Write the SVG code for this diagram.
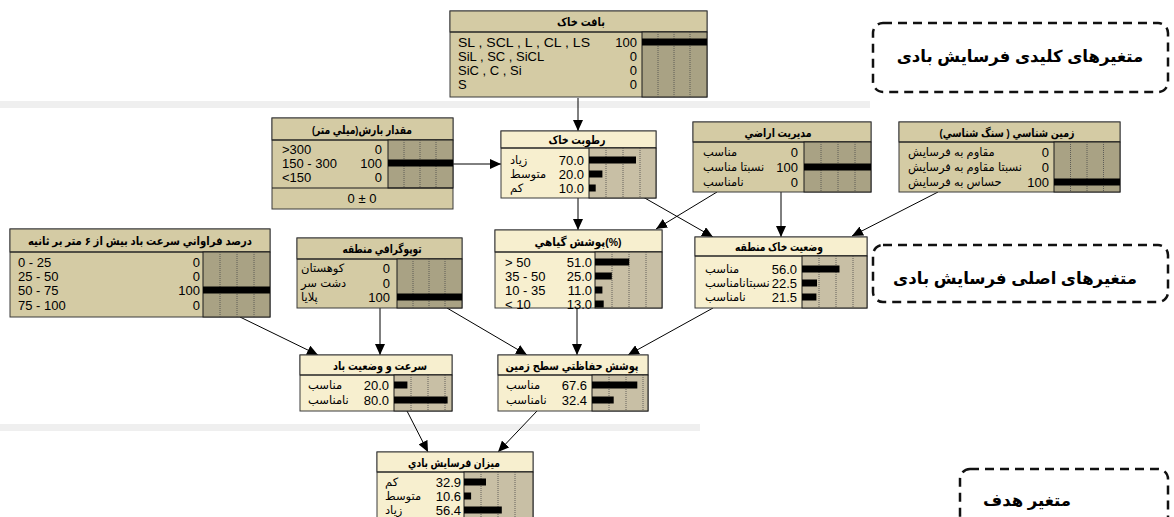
<svg xmlns="http://www.w3.org/2000/svg" width="1174" height="517" viewBox="0 0 1174 517">
<style>
text{font-family:"Liberation Sans","DejaVu Sans",Arial,sans-serif;fill:#000}
.ttl{font-size:11.5px;font-weight:bold;text-anchor:middle}
.lab{font-size:11.5px}
.lat{font-size:13px}
.val{font-size:13px;text-anchor:end}
.frame{stroke:#3a3a3a;stroke-width:1}
.tev{fill:#d4cba4}
.tc{fill:#f7efcf}
.bev{fill:#d4cba4}
.bc{fill:#f7efcf}
.cev{fill:#a9a284;stroke:#1a1a1a;stroke-width:1}
.cc{fill:#c8bfa5;stroke:#1a1a1a;stroke-width:1}
.sep{stroke:#1a1a1a;stroke-width:1.2}
.grid{stroke:#4a4a4a;stroke-width:0.8;stroke-dasharray:1 1}
.bar{fill:#000}
.conn line{stroke:#000;stroke-width:1;marker-end:url(#ah)}
.band{fill:#efefef}
.dbox{fill:none;stroke:#111;stroke-width:2.5;stroke-dasharray:9 6}
.big{font-size:16.5px;font-weight:bold;text-anchor:middle}
</style>
<defs>
<marker id="ah" markerUnits="userSpaceOnUse" markerWidth="12" markerHeight="10" refX="11" refY="5" orient="auto">
<path d="M0,0 L11,5 L0,10 z" fill="#000"/>
</marker>
</defs>
<rect x="0" y="0" width="1174" height="517" fill="#fff"/>
<rect class="band" x="0" y="101" width="870" height="7"/>
<rect class="band" x="0" y="424" width="700" height="7"/>

<g id="connectors" class="conn">
<line x1="578" y1="98" x2="578" y2="131"/>
<line x1="453" y1="164" x2="501" y2="164"/>
<line x1="578" y1="198" x2="578" y2="230"/>
<line x1="643" y1="197" x2="713" y2="237"/>
<line x1="717" y1="192" x2="656" y2="229"/>
<line x1="781" y1="192" x2="781" y2="237"/>
<line x1="938" y1="192" x2="852" y2="236"/>
<line x1="240" y1="317" x2="318" y2="355"/>
<line x1="380" y1="308" x2="380" y2="355"/>
<line x1="447" y1="308" x2="527" y2="355"/>
<line x1="577" y1="308" x2="577" y2="355"/>
<line x1="713" y1="308" x2="628" y2="355"/>
<line x1="407" y1="411" x2="428" y2="452"/>
<line x1="537" y1="411" x2="498" y2="452"/>
</g>

<g id="n-texture" transform="translate(450,11)">
<rect class="bev frame" width="257" height="86"/>
<rect class="tev frame" width="257" height="21"/>
<line class="sep" x1="0" y1="21" x2="257" y2="21"/>
<rect class="cev" x="192" y="21" width="65" height="65"/>
<line class="grid" x1="208" y1="21" x2="208" y2="86"/><line class="grid" x1="224" y1="21" x2="224" y2="86"/><line class="grid" x1="240" y1="21" x2="240" y2="86"/>
<rect class="bar" x="192" y="27.5" width="65" height="7"/>
<text class="ttl" x="131" y="15" textLength="48" lengthAdjust="spacingAndGlyphs">بافت خاک</text>
<text class="lat" x="8" y="36" textLength="132" lengthAdjust="spacingAndGlyphs">SL , SCL , L , CL , LS</text><text class="val" x="187" y="36">100</text>
<text class="lat" x="8" y="50">SiL , SC , SiCL</text><text class="val" x="187" y="50">0</text>
<text class="lat" x="8" y="64">SiC , C , Si</text><text class="val" x="187" y="64">0</text>
<text class="lat" x="8" y="78">S</text><text class="val" x="187" y="78">0</text>
</g>

<g id="n-rain" transform="translate(272,118)">
<rect class="bev frame" width="181" height="91"/>
<rect class="tev frame" width="181" height="22"/>
<line class="sep" x1="0" y1="22" x2="181" y2="22"/>
<rect class="cev" x="116" y="22" width="65" height="48"/>
<line class="grid" x1="132" y1="22" x2="132" y2="70"/><line class="grid" x1="148" y1="22" x2="148" y2="70"/><line class="grid" x1="164" y1="22" x2="164" y2="70"/>
<rect class="bar" x="116" y="41.5" width="65" height="7"/>
<line class="sep" x1="0" y1="70" x2="181" y2="70"/>
<text class="ttl" x="90" y="15.5" textLength="100" lengthAdjust="spacingAndGlyphs">(مقدار بارش(میلي متر</text>
<text class="lat" x="10" y="36">&gt;300</text><text class="val" x="110" y="36">0</text>
<text class="lat" x="10" y="50">150 - 300</text><text class="val" x="110" y="50">100</text>
<text class="lat" x="10" y="64">&lt;150</text><text class="val" x="110" y="64">0</text>
<text class="lat" x="90" y="85" text-anchor="middle">0 ± 0</text>
</g>

<g id="n-moisture" transform="translate(501,131)">
<rect class="bc frame" width="155" height="67"/>
<rect class="tc frame" width="155" height="17"/>
<line class="sep" x1="0" y1="17" x2="155" y2="17"/>
<rect class="cc" x="88" y="17" width="67" height="50"/>
<line class="grid" x1="105" y1="17" x2="105" y2="67"/><line class="grid" x1="122" y1="17" x2="122" y2="67"/><line class="grid" x1="139" y1="17" x2="139" y2="67"/>
<rect class="bar" x="88" y="25.5" width="47" height="7"/>
<rect class="bar" x="88" y="39.5" width="13.4" height="7"/>
<rect class="bar" x="88" y="53.5" width="6.7" height="7"/>
<text class="ttl" x="76" y="13" textLength="57" lengthAdjust="spacingAndGlyphs">رطوبت خاک</text>
<text class="lab" x="9" y="33">زیاد</text><text class="val" x="83" y="34">70.0</text>
<text class="lab" x="9" y="47">متوسط</text><text class="val" x="83" y="48">20.0</text>
<text class="lab" x="9" y="61">کم</text><text class="val" x="83" y="62">10.0</text>
</g>

<g id="n-landmgmt" transform="translate(693,122)">
<rect class="bev frame" width="178" height="70"/>
<rect class="tev frame" width="178" height="20"/>
<line class="sep" x1="0" y1="20" x2="178" y2="20"/>
<rect class="cev" x="111" y="20" width="67" height="50"/>
<line class="grid" x1="128" y1="20" x2="128" y2="70"/><line class="grid" x1="145" y1="20" x2="145" y2="70"/><line class="grid" x1="162" y1="20" x2="162" y2="70"/>
<rect class="bar" x="111" y="41.5" width="67" height="7"/>
<text class="ttl" x="85" y="14.5" textLength="67" lengthAdjust="spacingAndGlyphs">مدیریت اراضي</text>
<text class="lab" x="10" y="34">مناسب</text><text class="val" x="105" y="35">0</text>
<text class="lab" x="10" y="49">نسبتا مناسب</text><text class="val" x="105" y="50">100</text>
<text class="lab" x="10" y="64">نامناسب</text><text class="val" x="105" y="65">0</text>
</g>

<g id="n-geology" transform="translate(899,122)">
<rect class="bev frame" width="221" height="70"/>
<rect class="tev frame" width="221" height="20"/>
<line class="sep" x1="0" y1="20" x2="221" y2="20"/>
<rect class="cev" x="155" y="20" width="66" height="50"/>
<line class="grid" x1="171.5" y1="20" x2="171.5" y2="70"/><line class="grid" x1="188" y1="20" x2="188" y2="70"/><line class="grid" x1="204.5" y1="20" x2="204.5" y2="70"/>
<rect class="bar" x="155" y="56.5" width="66" height="7"/>
<text class="ttl" x="108" y="14.5" textLength="135" lengthAdjust="spacingAndGlyphs">(زمین شناسي ( سنگ شناسي</text>
<text class="lab" x="9" y="34">مقاوم به فرسایش</text><text class="val" x="150" y="35">0</text>
<text class="lab" x="9" y="49">نسبتا مقاوم به فرسایش</text><text class="val" x="150" y="50">0</text>
<text class="lab" x="9" y="64">حساس به فرسایش</text><text class="val" x="150" y="65">100</text>
</g>

<g id="n-windfreq" transform="translate(10,229)">
<rect class="bev frame" width="260" height="88"/>
<rect class="tev frame" width="260" height="23"/>
<line class="sep" x1="0" y1="23" x2="260" y2="23"/>
<rect class="cev" x="193" y="23" width="67" height="65"/>
<line class="grid" x1="210" y1="23" x2="210" y2="88"/><line class="grid" x1="227" y1="23" x2="227" y2="88"/><line class="grid" x1="244" y1="23" x2="244" y2="88"/>
<rect class="bar" x="193" y="57.5" width="67" height="7"/>
<text class="ttl" x="130" y="16" textLength="224" lengthAdjust="spacingAndGlyphs">درصد فراواني سرعت باد بیش از ۶ متر بر ثانیه</text>
<text class="lat" x="8" y="38">0 - 25</text><text class="val" x="190" y="38">0</text>
<text class="lat" x="8" y="52">25 - 50</text><text class="val" x="190" y="52">0</text>
<text class="lat" x="8" y="66">50 - 75</text><text class="val" x="190" y="66">100</text>
<text class="lat" x="8" y="81">75 - 100</text><text class="val" x="190" y="81">0</text>
</g>

<g id="n-topo" transform="translate(297,238)">
<rect class="bev frame" width="165" height="70"/>
<rect class="tev frame" width="165" height="21"/>
<line class="sep" x1="0" y1="21" x2="165" y2="21"/>
<rect class="cev" x="100" y="21" width="65" height="49"/>
<line class="grid" x1="116" y1="21" x2="116" y2="70"/><line class="grid" x1="132" y1="21" x2="132" y2="70"/><line class="grid" x1="148" y1="21" x2="148" y2="70"/>
<rect class="bar" x="100" y="55.5" width="65" height="7"/>
<text class="ttl" x="85" y="15" textLength="79" lengthAdjust="spacingAndGlyphs">توپوگرافي منطقه</text>
<text class="lab" x="4" y="34">کوهستان</text><text class="val" x="93" y="35">0</text>
<text class="lab" x="4" y="49">دشت سر</text><text class="val" x="93" y="50">0</text>
<text class="lab" x="4" y="63">پلایا</text><text class="val" x="93" y="64">100</text>
</g>

<g id="n-veg" transform="translate(495,230)">
<rect class="bc frame" width="167" height="78"/>
<rect class="tc frame" width="167" height="22"/>
<line class="sep" x1="0" y1="22" x2="167" y2="22"/>
<rect class="cc" x="100" y="22" width="67" height="56"/>
<line class="grid" x1="117" y1="22" x2="117" y2="78"/><line class="grid" x1="134" y1="22" x2="134" y2="78"/><line class="grid" x1="151" y1="22" x2="151" y2="78"/>
<rect class="bar" x="100" y="28.5" width="34.2" height="7"/>
<rect class="bar" x="100" y="42.5" width="16.8" height="7"/>
<rect class="bar" x="100" y="56.5" width="7.4" height="7"/>
<rect class="bar" x="100" y="70.5" width="8.7" height="7"/>
<text class="ttl" x="83" y="15.5" textLength="87" lengthAdjust="spacingAndGlyphs">پوشش گیاهي(%)</text>
<text class="lat" x="10" y="37">&gt; 50</text><text class="val" x="97" y="37">51.0</text>
<text class="lat" x="10" y="51">35 - 50</text><text class="val" x="97" y="51">25.0</text>
<text class="lat" x="10" y="65">10 - 35</text><text class="val" x="97" y="65">11.0</text>
<text class="lat" x="10" y="79">&lt; 10</text><text class="val" x="97" y="79">13.0</text>
</g>

<g id="n-soilstate" transform="translate(695,237)">
<rect class="bc frame" width="172" height="71"/>
<rect class="tc frame" width="172" height="19"/>
<line class="sep" x1="0" y1="19" x2="172" y2="19"/>
<rect class="cc" x="107" y="19" width="65" height="52"/>
<line class="grid" x1="124" y1="19" x2="124" y2="71"/><line class="grid" x1="141" y1="19" x2="141" y2="71"/><line class="grid" x1="158" y1="19" x2="158" y2="71"/>
<rect class="bar" x="107" y="28.5" width="37.5" height="7"/>
<rect class="bar" x="107" y="42.5" width="15" height="7"/>
<rect class="bar" x="107" y="56.5" width="14.4" height="7"/>
<text class="ttl" x="84" y="14" textLength="88" lengthAdjust="spacingAndGlyphs">وضعیت خاک منطقه</text>
<text class="lab" x="10" y="36">مناسب</text><text class="val" x="102" y="37">56.0</text>
<text class="lab" x="10" y="50">نسبتانامناسب</text><text class="val" x="102" y="51">22.5</text>
<text class="lab" x="10" y="64">نامناسب</text><text class="val" x="102" y="65">21.5</text>
</g>

<g id="n-windspeed" transform="translate(300,355)">
<rect class="bc frame" width="152" height="56"/>
<rect class="tc frame" width="152" height="20"/>
<line class="sep" x1="0" y1="20" x2="152" y2="20"/>
<rect class="cc" x="94" y="20" width="58" height="36"/>
<line class="grid" x1="111" y1="20" x2="111" y2="56"/><line class="grid" x1="128" y1="20" x2="128" y2="56"/><line class="grid" x1="145" y1="20" x2="145" y2="56"/>
<rect class="bar" x="94" y="26.5" width="13.4" height="7"/>
<rect class="bar" x="94" y="41.5" width="53.6" height="7"/>
<text class="ttl" x="80" y="14.5" textLength="94" lengthAdjust="spacingAndGlyphs">سرعت و وضعیت باد</text>
<text class="lab" x="8" y="34">مناسب</text><text class="val" x="89" y="35">20.0</text>
<text class="lab" x="8" y="49">نامناسب</text><text class="val" x="89" y="50">80.0</text>
</g>

<g id="n-groundcover" transform="translate(498,355)">
<rect class="bc frame" width="150" height="56"/>
<rect class="tc frame" width="150" height="20"/>
<line class="sep" x1="0" y1="20" x2="150" y2="20"/>
<rect class="cc" x="94" y="20" width="56" height="36"/>
<line class="grid" x1="111" y1="20" x2="111" y2="56"/><line class="grid" x1="128" y1="20" x2="128" y2="56"/><line class="grid" x1="145" y1="20" x2="145" y2="56"/>
<rect class="bar" x="94" y="26.5" width="45.3" height="7"/>
<rect class="bar" x="94" y="41.5" width="21.7" height="7"/>
<text class="ttl" x="74" y="14.5" textLength="133" lengthAdjust="spacingAndGlyphs">پوشش حفاظتي سطح زمین</text>
<text class="lab" x="8" y="34">مناسب</text><text class="val" x="89" y="35">67.6</text>
<text class="lab" x="8" y="49">نامناسب</text><text class="val" x="89" y="50">32.4</text>
</g>

<g id="n-erosion" transform="translate(377,452)">
<rect class="bc frame" width="156" height="70"/>
<rect class="tc frame" width="156" height="20"/>
<line class="sep" x1="0" y1="20" x2="156" y2="20"/>
<rect class="cc" x="87" y="20" width="69" height="50"/>
<line class="grid" x1="104" y1="20" x2="104" y2="70"/><line class="grid" x1="121" y1="20" x2="121" y2="70"/><line class="grid" x1="138" y1="20" x2="138" y2="70"/>
<rect class="bar" x="87" y="26.5" width="22" height="7"/>
<rect class="bar" x="87" y="40.5" width="7.1" height="7"/>
<rect class="bar" x="87" y="54.5" width="37.8" height="7"/>
<text class="ttl" x="77" y="14.5" textLength="92" lengthAdjust="spacingAndGlyphs">میزان فرسایش بادي</text>
<text class="lab" x="8" y="34">کم</text><text class="val" x="84" y="35">32.9</text>
<text class="lab" x="8" y="48">متوسط</text><text class="val" x="84" y="49">10.6</text>
<text class="lab" x="8" y="62">زیاد</text><text class="val" x="84" y="63">56.4</text>
</g>

<g id="lbl-key">
<rect class="dbox" x="873" y="23" width="295" height="69" rx="10"/>
<text class="big" x="1020" y="62">متغیرهای کلیدی  فرسایش بادی</text>
</g>
<g id="lbl-main">
<rect class="dbox" x="873" y="245" width="295" height="57" rx="10"/>
<text class="big" x="1015" y="284">متغیرهای اصلی فرسایش بادی</text>
</g>
<g id="lbl-goal">
<rect class="dbox" x="960" y="469" width="208" height="60" rx="10"/>
<text class="big" x="1027" y="506">متغیر هدف</text>
</g>
</svg>
